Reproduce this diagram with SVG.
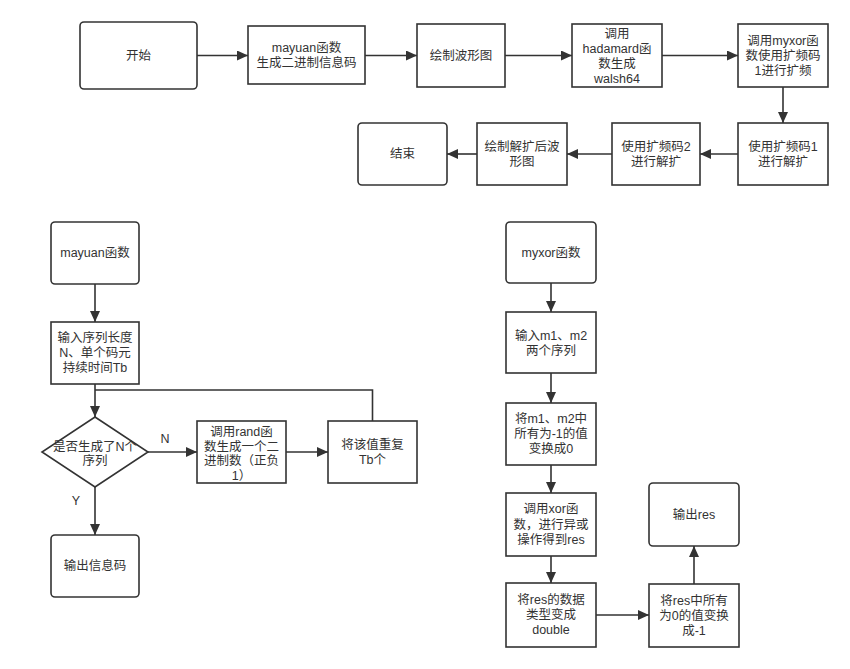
<svg xmlns="http://www.w3.org/2000/svg" width="850" height="669" viewBox="0 0 850 669">
<defs>
<style>
.b{fill:#fff;stroke:#333;stroke-width:1.6}
.t{font-family:"Liberation Sans","Noto Sans CJK SC",sans-serif;font-size:12.5px;fill:#333;text-anchor:middle;dominant-baseline:central}
.c{fill:none;stroke:#333;stroke-width:1.6}
</style>
<marker id="ah" markerUnits="userSpaceOnUse" markerWidth="12" markerHeight="10" refX="11" refY="5" orient="auto">
<path d="M0,0 L11,5 L0,10 Z" fill="#333"/>
</marker>
</defs>
<rect width="850" height="669" fill="#fff"/>

<g id="start"><rect class="b" x="80" y="22" width="117" height="67" rx="4"/><text class="t" x="138.5" y="55.5">开始</text></g>
<g id="gen"><rect class="b" x="248" y="26" width="117" height="58"/><text class="t" x="306.5" y="48">mayuan函数</text><text class="t" x="306.5" y="63">生成二进制信息码</text></g>
<g id="plot"><rect class="b" x="417" y="24" width="88" height="63"/><text class="t" x="461" y="55.5">绘制波形图</text></g>
<g id="hadamard"><rect class="b" x="572" y="24" width="90" height="63"/><text class="t" x="617" y="34">调用</text><text class="t" x="617" y="49">hadamard函</text><text class="t" x="617" y="63.5">数生成</text><text class="t" x="617" y="78.5">walsh64</text></g>
<g id="spread"><rect class="b" x="738" y="24" width="90" height="63"/><text class="t" x="783" y="41">调用myxor函</text><text class="t" x="783" y="56">数使用扩频码</text><text class="t" x="783" y="71">1进行扩频</text></g>
<g id="despread1"><rect class="b" x="738" y="123" width="90" height="62"/><text class="t" x="783" y="147">使用扩频码1</text><text class="t" x="783" y="162">进行解扩</text></g>
<g id="despread2"><rect class="b" x="612" y="123" width="88" height="62"/><text class="t" x="656" y="147">使用扩频码2</text><text class="t" x="656" y="162">进行解扩</text></g>
<g id="plot2"><rect class="b" x="477" y="123" width="90" height="62"/><text class="t" x="522" y="147">绘制解扩后波</text><text class="t" x="522" y="162">形图</text></g>
<g id="end"><rect class="b" x="358" y="123" width="89" height="62" rx="4"/><text class="t" x="402.5" y="154">结束</text></g>

<g id="mayuan"><rect class="b" x="51" y="222" width="88" height="62" rx="4"/><text class="t" x="95" y="253">mayuan函数</text></g>
<g id="input1"><rect class="b" x="51" y="322" width="88" height="62"/><text class="t" x="95" y="338">输入序列长度</text><text class="t" x="95" y="353">N、单个码元</text><text class="t" x="95" y="368">持续时间Tb</text></g>
<g id="decision"><path class="b" d="M95,417 L148,452 L95,487 L42,452 Z"/><text class="t" x="95" y="446.5">是否生成了N个</text><text class="t" x="95" y="461">序列</text></g>
<g id="rand"><rect class="b" x="197" y="421" width="89" height="62"/><text class="t" x="241.5" y="431.5">调用rand函</text><text class="t" x="241.5" y="446.5">数生成一个二</text><text class="t" x="241.5" y="461">进制数（正负</text><text class="t" x="241.5" y="475.5">1）</text></g>
<g id="repeat"><rect class="b" x="328" y="421" width="89" height="62"/><text class="t" x="372.5" y="445">将该值重复</text><text class="t" x="372.5" y="460">Tb个</text></g>
<g id="output1"><rect class="b" x="51" y="535" width="88" height="62" rx="4"/><text class="t" x="95" y="566">输出信息码</text></g>

<g id="myxor"><rect class="b" x="506" y="222" width="90" height="61" rx="4"/><text class="t" x="551" y="253">myxor函数</text></g>
<g id="input2"><rect class="b" x="506" y="312" width="90" height="61"/><text class="t" x="551" y="336">输入m1、m2</text><text class="t" x="551" y="351">两个序列</text></g>
<g id="conv0"><rect class="b" x="506" y="403" width="90" height="62"/><text class="t" x="551" y="419">将m1、m2中</text><text class="t" x="551" y="434">所有为-1的值</text><text class="t" x="551" y="449">变换成0</text></g>
<g id="xor"><rect class="b" x="506" y="493" width="90" height="63"/><text class="t" x="551" y="509">调用xor函</text><text class="t" x="551" y="524.5">数，进行异或</text><text class="t" x="551" y="539.5">操作得到res</text></g>
<g id="double"><rect class="b" x="506" y="583" width="90" height="64"/><text class="t" x="551" y="600">将res的数据</text><text class="t" x="551" y="615">类型变成</text><text class="t" x="551" y="630">double</text></g>
<g id="conv1"><rect class="b" x="649" y="584" width="90" height="63"/><text class="t" x="694" y="601">将res中所有</text><text class="t" x="694" y="616">为0的值变换</text><text class="t" x="694" y="631">成-1</text></g>
<g id="outres"><rect class="b" x="649" y="483" width="90" height="63" rx="4"/><text class="t" x="694" y="514.5">输出res</text></g>

<g id="connectors">
<path class="c" d="M197,55.5 H248" marker-end="url(#ah)"/>
<path class="c" d="M365,55.5 H417" marker-end="url(#ah)"/>
<path class="c" d="M505,55.5 H572" marker-end="url(#ah)"/>
<path class="c" d="M662,55.5 H738" marker-end="url(#ah)"/>
<path class="c" d="M783,87 V123" marker-end="url(#ah)"/>
<path class="c" d="M738,154 H700" marker-end="url(#ah)"/>
<path class="c" d="M612,154 H567" marker-end="url(#ah)"/>
<path class="c" d="M477,154 H447" marker-end="url(#ah)"/>
<path class="c" d="M95,284 V322" marker-end="url(#ah)"/>
<path class="c" d="M95,384 V417" marker-end="url(#ah)"/>
<path class="c" d="M148,452 H197" marker-end="url(#ah)"/>
<path class="c" d="M286,452 H328" marker-end="url(#ah)"/>
<path class="c" d="M372.5,421 V390 H95"/>
<path class="c" d="M95,487 V535" marker-end="url(#ah)"/>
<text class="t" x="165" y="439">N</text>
<text class="t" x="76" y="501">Y</text>
<path class="c" d="M551,283 V312" marker-end="url(#ah)"/>
<path class="c" d="M551,373 V403" marker-end="url(#ah)"/>
<path class="c" d="M551,465 V493" marker-end="url(#ah)"/>
<path class="c" d="M551,556 V583" marker-end="url(#ah)"/>
<path class="c" d="M596,615 H649" marker-end="url(#ah)"/>
<path class="c" d="M694,584 V546" marker-end="url(#ah)"/>
</g>
</svg>
